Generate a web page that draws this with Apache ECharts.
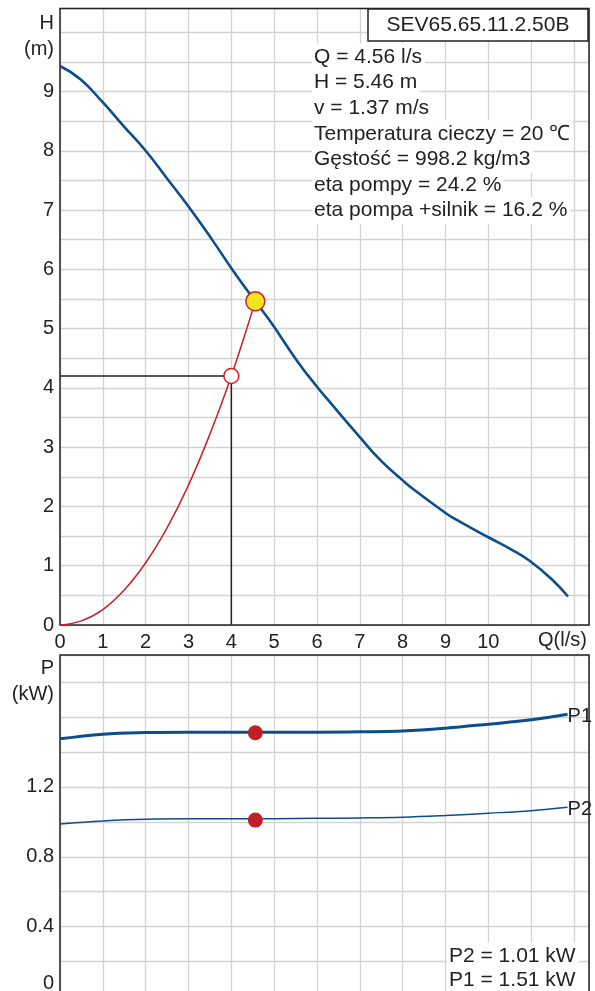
<!DOCTYPE html>
<html>
<head>
<meta charset="utf-8">
<script src="https://cdn.jsdelivr.net/npm/echarts@6/dist/echarts.min.js"></script>
<style>
html,body{margin:0;padding:0;background:#fff;}
#c{width:595px;height:991px;}
</style>
</head>
<body>
<div id="c"></div>
<script>
// ---- data ----
const hqQ = [0, 0.47, 0.97, 1.48, 2.0, 2.49, 3.0, 3.57, 4.0, 4.55, 4.92, 5.54, 6.0, 6.36, 7.0, 7.48, 8.0, 8.25, 9.0, 9.22, 10.0, 10.5, 10.97, 11.51, 11.86];
const hqH = [9.43, 9.21, 8.84, 8.42, 8.0, 7.54, 7.06, 6.48, 6.02, 5.47, 5.11, 4.45, 4.02, 3.71, 3.17, 2.78, 2.44, 2.29, 1.89, 1.79, 1.48, 1.29, 1.08, 0.75, 0.48];
const sysQ = [0, 0.5, 1, 1.5, 2, 2.5, 3, 3.5, 4, 4.56];
const sysH = [0, 0.07, 0.26, 0.59, 1.05, 1.64, 2.36, 3.22, 4.2, 5.46];
const pQ  = [0, 1, 2, 3, 4, 4.56, 5, 6, 7, 8, 9, 10, 11, 11.85];
const p1  = [1.475, 1.502, 1.511, 1.513, 1.513, 1.513, 1.513, 1.513, 1.515, 1.52, 1.536, 1.559, 1.584, 1.616];
const p2  = [0.988, 1.005, 1.015, 1.017, 1.017, 1.017, 1.018, 1.02, 1.022, 1.026, 1.036, 1.049, 1.064, 1.083];
const opQ = 4.56, opH = 5.46, opP1 = 1.51, opP2 = 1.01;
const refQ = 4, refH = 4.2;
const xTickLabels = [0,1,2,3,4,5,6,7,8,9,10];
const hTickLabels = [0,1,2,3,4,5,6,7,8,9];
const pTickLabels = [0, 0.4, 0.8, 1.2];
const title = 'SEV65.65.11.2.50B';
const infoLines = ['Q = 4.56 l/s','H = 5.46 m','v = 1.37 m/s','Temperatura cieczy = 20 \u2103','G\u0119sto\u015b\u0107 = 998.2 kg/m3','eta pompy = 24.2 %','eta pompa +silnik = 16.2 %'];
const powerLines = ['P2 = 1.01 kW','P1 = 1.51 kW'];

// ---- styles ----
const FONT = 'Liberation Sans, Arial, Helvetica, sans-serif';
const BLUE = '#0c4e8c';
const RED = '#c8202a';
const DARK = '#222222';
const GRIDC = '#d3d3d3';
const FS = 20;

const zip = (a, b) => a.map((v, i) => [v, b[i]]);
const near = (v, arr) => arr.some(t => Math.abs(t - v) < 1e-6);

const chart = echarts.init(document.getElementById('c'), null, {renderer: 'canvas'});

const xBase = {
  type: 'value', min: 0, max: 12.35, interval: 1,
  axisLine: {show: false}, axisTick: {show: false},
  splitLine: {show: true, lineStyle: {color: GRIDC, width: 1.3}}
};

const graphics = [];
// axis unit labels
graphics.push({type: 'text', right: 541, top: 13, style: {text: 'H', font: `${FS}px ${FONT}`, fill: DARK}});
graphics.push({type: 'text', right: 541, top: 39, style: {text: '(m)', font: `${FS}px ${FONT}`, fill: DARK}});
graphics.push({type: 'text', left: 538, top: 630, style: {text: 'Q(l/s)', font: `${FS}px ${FONT}`, fill: DARK}});
graphics.push({type: 'text', right: 541, top: 658, style: {text: 'P', font: `${FS}px ${FONT}`, fill: DARK}});
graphics.push({type: 'text', right: 541, top: 684, style: {text: '(kW)', font: `${FS}px ${FONT}`, fill: DARK}});
// title box
graphics.push({type: 'rect', shape: {x: 368, y: 9, width: 220, height: 32}, style: {fill: '#fff', stroke: DARK, lineWidth: 1.5}, z: 10});
graphics.push({type: 'text', x: 478, y: 25, style: {text: title, font: `${FS + 1}px ${FONT}`, fill: DARK, align: 'center', verticalAlign: 'middle'}, z: 11});
// info lines
infoLines.forEach((t, i) => {
  graphics.push({type: 'text', x: 312, y: 57 + i * 25.6, z: 10,
    style: {text: t, font: `${FS + 1}px ${FONT}`, fill: DARK, verticalAlign: 'middle', backgroundColor: '#fff', padding: [3, 3, 3, 2]}});
});
powerLines.forEach((t, i) => {
  graphics.push({type: 'text', x: 447, y: 956 + i * 24.5, z: 10,
    style: {text: t, font: `${FS + 1}px ${FONT}`, fill: DARK, verticalAlign: 'middle', backgroundColor: '#fff', padding: [3, 3, 3, 2]}});
});

const option = {
  animation: false,
  backgroundColor: '#fff',
  textStyle: {fontFamily: FONT},
  grid: [
    {left: 60, right: 6, top: 8.5, height: 616.5, outerBoundsMode: 'none', containLabel: false, show: true, borderColor: DARK, borderWidth: 1.5, backgroundColor: 'transparent', z: 3},
    {left: 60, right: 6, top: 655, height: 341.5, outerBoundsMode: 'none', containLabel: false, show: true, borderColor: DARK, borderWidth: 1.5, backgroundColor: 'transparent', z: 3}
  ],
  xAxis: [
    Object.assign({}, xBase, {gridIndex: 0,
      axisLabel: {show: true, margin: 7, fontSize: FS, color: DARK, fontFamily: FONT,
        showMaxLabel: false,
        formatter: v => near(v, xTickLabels) ? String(v) : ''}}),
    Object.assign({}, xBase, {gridIndex: 1, axisLabel: {show: false}})
  ],
  yAxis: [
    {type: 'value', gridIndex: 0, min: 0, max: 10.4, interval: 0.5,
      axisLine: {show: false}, axisTick: {show: false},
      splitLine: {show: true, lineStyle: {color: GRIDC, width: 1.3}},
      axisLabel: {margin: 6, fontSize: FS, color: DARK, fontFamily: FONT,
        formatter: v => near(v, hTickLabels) ? String(v) : ''}},
    {type: 'value', gridIndex: 1, min: 0, max: 1.955, interval: 0.2,
      axisLine: {show: false}, axisTick: {show: false},
      splitLine: {show: true, lineStyle: {color: GRIDC, width: 1.3}},
      axisLabel: {margin: 6, fontSize: FS, color: DARK, fontFamily: FONT,
        formatter: v => !near(v, pTickLabels) ? '' : (v === 0 ? '{z|0}' : String(v)),
        rich: {z: {fontSize: FS, color: DARK, fontFamily: FONT, padding: [0, 0, 26, 0]}}}}
  ],
  series: [
    {type: 'line', name: 'H', xAxisIndex: 0, yAxisIndex: 0, data: zip(hqQ, hqH), smooth: 0.5,
      showSymbol: false, lineStyle: {color: BLUE, width: 2.6}, z: 5},
    {type: 'line', name: 'system', xAxisIndex: 0, yAxisIndex: 0, data: zip(sysQ, sysH), smooth: 0.4,
      showSymbol: false, lineStyle: {color: RED, width: 1.5}, z: 4},
    {type: 'line', name: 'ref', xAxisIndex: 0, yAxisIndex: 0, data: [[0, refH], [refQ, refH], [refQ, 0]],
      showSymbol: false, lineStyle: {color: DARK, width: 1.5}, z: 4},
    {type: 'scatter', xAxisIndex: 0, yAxisIndex: 0, data: [[refQ, refH]], symbolSize: 15,
      itemStyle: {color: '#fff', borderColor: RED, borderWidth: 1.5, opacity: 1}, z: 6},
    {type: 'scatter', xAxisIndex: 0, yAxisIndex: 0, data: [[opQ, opH]], symbolSize: 19,
      itemStyle: {color: '#f1e51d', borderColor: RED, borderWidth: 1.5, opacity: 1}, z: 7},
    {type: 'line', name: 'P1', xAxisIndex: 1, yAxisIndex: 1, data: zip(pQ, p1), smooth: 0.4,
      showSymbol: false, lineStyle: {color: BLUE, width: 3}, z: 5,
      endLabel: {show: true, formatter: 'P1', distance: 0, fontSize: FS, color: DARK, fontFamily: FONT, offset: [0, 2]}},
    {type: 'line', name: 'P2', xAxisIndex: 1, yAxisIndex: 1, data: zip(pQ, p2), smooth: 0.4,
      showSymbol: false, lineStyle: {color: BLUE, width: 1.5}, z: 5,
      endLabel: {show: true, formatter: 'P2', distance: 0, fontSize: FS, color: DARK, fontFamily: FONT, offset: [0, 2]}},
    {type: 'scatter', xAxisIndex: 1, yAxisIndex: 1, data: [[opQ, opP1], [opQ, opP2]], symbolSize: 15,
      itemStyle: {color: '#c21f27', opacity: 1}, z: 7}
  ],
  graphic: graphics
};
chart.setOption(option);
</script>
</body>
</html>
